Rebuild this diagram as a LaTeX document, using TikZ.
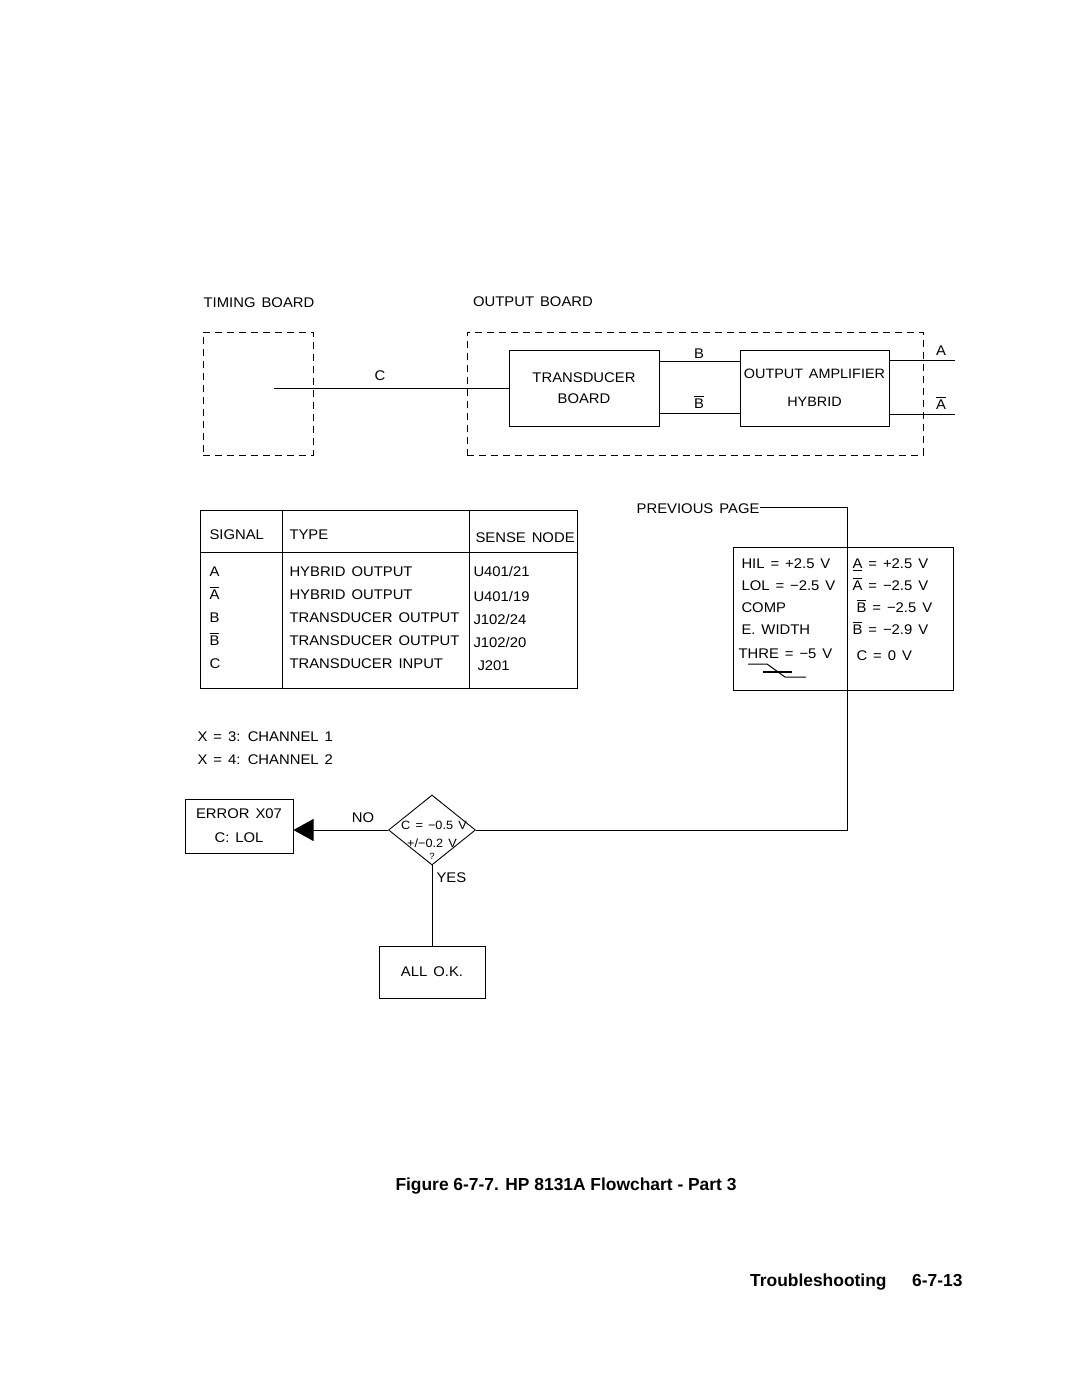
\documentclass[tikz,border=0pt]{standalone}
\usepackage{fontspec}
\setmainfont{Liberation Sans}[FakeStretch=1.06,WordSpace=1.45]
\newfontfamily\capfont{Liberation Sans}
\usetikzlibrary{shapes.geometric,arrows.meta}
\newcommand{\ovb}[1]{{\setbox0\hbox{#1}\rlap{\rule[\dimexpr\ht0+2pt\relax]{\wd0}{0.8pt}}\box0}}
\newcommand{\unb}[1]{{\setbox0\hbox{#1}\rlap{\rule[-3pt]{\wd0}{0.8pt}}\box0}}
\begin{document}
\begin{tikzpicture}[x=1pt,y=-1pt,line width=1pt,
  txt/.style={inner sep=0pt,font=\fontsize{14}{17}\selectfont},
  btxt/.style={txt,anchor=base west},
  box/.style={draw,line width=1pt,inner sep=0pt,align=center,font=\fontsize{14}{21}\selectfont},
  dbox/.style={draw,dash pattern=on 7pt off 5pt,line width=0.9pt,inner sep=0pt},
  flow/.style={line width=0.9pt}]
\path[use as bounding box,fill=white] (0,0) rectangle (1080,1397);

% --- block diagram ---
\node[txt] (tbl) at (259,303) {TIMING BOARD};
\node[txt] (obl) at (533,302) {OUTPUT BOARD};
\node[dbox,minimum width=110pt,minimum height=123pt] (timing) at (258,393.5) {};
\node[dbox,minimum width=456pt,minimum height=123pt] (outb) at (695,393.5) {};
\node[box,minimum width=150pt,minimum height=76pt] (tdb) at (584,388) {TRANSDUCER\\BOARD};
\node[box,minimum width=149pt,minimum height=76pt,font=\fontsize{13.6}{28}\selectfont] (oah) at (814.5,388) {OUTPUT AMPLIFIER\\HYBRID};
\coordinate (cin) at (274,388);
\draw[flow] (cin) -- (tdb.west);
\node[txt] (lc) at (380,376) {C};
\coordinate (bl) at (700,361);
\coordinate (bbl) at (700,413);
\draw[flow] (tdb.east |- bl) -- (oah.west |- bl);
\draw[flow] (tdb.east |- bbl) -- (oah.west |- bbl);
\node[txt,anchor=base] (lb) at (699,358) {B};
\node[txt,anchor=base] (lbb) at (699,408) {\ovb{B}};
\coordinate (aout) at (955,360);
\coordinate (about) at (955,414);
\draw[flow] (oah.east |- aout) -- (aout);
\draw[flow] (oah.east |- about) -- (about);
\node[txt,anchor=base] (la) at (941,355) {A};
\node[txt,anchor=base] (lab) at (941,409) {\ovb{A}};

% --- signal table ---
\node[draw,inner sep=0pt,minimum width=377pt,minimum height=178pt] (tab) at (388.5,599) {};
\draw (tab.west |- 0,552) -- (tab.east |- 0,552);
\draw (tab.north -| 282,0) -- (tab.south -| 282,0);
\draw (tab.north -| 469,0) -- (tab.south -| 469,0);
\node[btxt] (h1) at (209,539) {SIGNAL};
\node[btxt] (h2) at (289,539) {TYPE};
\node[btxt] (h3) at (475,542) {SENSE NODE};
\node[btxt] (s1) at (209,576) {A};
\node[btxt] (s2) at (209,599) {\ovb{A}};
\node[btxt] (s3) at (209,622) {B};
\node[btxt] (s4) at (209,645) {\ovb{B}};
\node[btxt] (s5) at (209,668) {C};
\node[btxt] (t1) at (289,576) {HYBRID OUTPUT};
\node[btxt] (t2) at (289,599) {HYBRID OUTPUT};
\node[btxt] (t3) at (289,622) {TRANSDUCER OUTPUT};
\node[btxt] (t4) at (289,645) {TRANSDUCER OUTPUT};
\node[btxt] (t5) at (289,668) {TRANSDUCER INPUT};
\node[btxt] (n1) at (473,576) {U401/21};
\node[btxt] (n2) at (473,601) {U401/19};
\node[btxt] (n3) at (473,624) {J102/24};
\node[btxt] (n4) at (473,647) {J102/20};
\node[btxt] (n5) at (477,670) {J201};

\node[btxt] (ch1) at (197,741) {X = 3: CHANNEL 1};
\node[btxt] (ch2) at (197,764) {X = 4: CHANNEL 2};

% --- values box ---
\node[draw,inner sep=0pt,minimum width=220pt,minimum height=143pt] (vals) at (843,618.5) {};
\node[btxt] (v1) at (741,568) {HIL = +2.5 V};
\node[btxt] (v2) at (741,590) {LOL = −2.5 V};
\node[btxt] (v3) at (741,612) {COMP};
\node[btxt] (v4) at (741,634) {E. WIDTH};
\node[btxt] (v5) at (738,658) {THRE = −5 V};
\node[btxt] (w1) at (852,568) {\unb{A} = +2.5 V};
\node[btxt] (w2) at (852,590) {\ovb{A} = −2.5 V};
\node[btxt] (w3) at (856,612) {\ovb{B} = −2.5 V};
\node[btxt] (w4) at (852,634) {\ovb{B} = −2.9 V};
\node[btxt] (w5) at (856,660) {C = 0 V};
\draw[line width=1pt] (748,664) -- (767,664) -- (785,677) -- (806,677);
\draw[line width=1.6pt] (763,672) -- (792,672);

% --- decision ---
\node[draw,diamond,inner sep=0pt,minimum width=87pt,minimum height=70pt,line width=0.9pt] (dia) at (432,830) {};
\node[txt,font=\fontsize{12}{14}\selectfont] (d1) at (434,825) {C = −0.5 V};
\node[txt,font=\fontsize{12}{14}\selectfont] (d2) at (432,843) {+/−0.2 V};
\node[txt,font=\fontsize{9}{10}\selectfont] (d3) at (432,856) {?};

\node[txt,anchor=east] (pp) at (760,509) {PREVIOUS PAGE};
\coordinate (pc) at (847,507);
\coordinate (pd) at (847,830);
\draw[flow] (pp.east |- pc) -- (pc) -- (pd) -- (dia.east);

\node[box,minimum width=108pt,minimum height=54pt,font=\fontsize{14}{24}\selectfont] (err) at (239,826) {ERROR X07\\C: LOL};
\draw[flow,-{Triangle[length=20pt,width=22pt]}] (dia.west) -- (err.east |- dia.west);
\node[txt] (lno) at (363,818) {NO};

\node[txt,anchor=west] (lyes) at (436,878) {YES};
\node[box,minimum width=106pt,minimum height=52pt] (allok) at (432,972) {ALL O.K.};
\draw[flow] (dia.south) -- (allok.north);

% --- captions ---
\node[anchor=base west,inner sep=0pt,font=\capfont\fontsize{17.4}{20}\selectfont\bfseries] (cap) at (395,1190) {Figure 6-7-7. HP 8131A Flowchart - Part 3};
\node[anchor=base east,inner sep=0pt,font=\capfont\fontsize{17.4}{20}\selectfont\bfseries] (pgt) at (887,1286) {Troubleshooting};
\node[anchor=base east,inner sep=0pt,font=\capfont\fontsize{17.4}{20}\selectfont\bfseries] (pgn) at (963,1286) {6-7-13};
\end{tikzpicture}
\end{document}
